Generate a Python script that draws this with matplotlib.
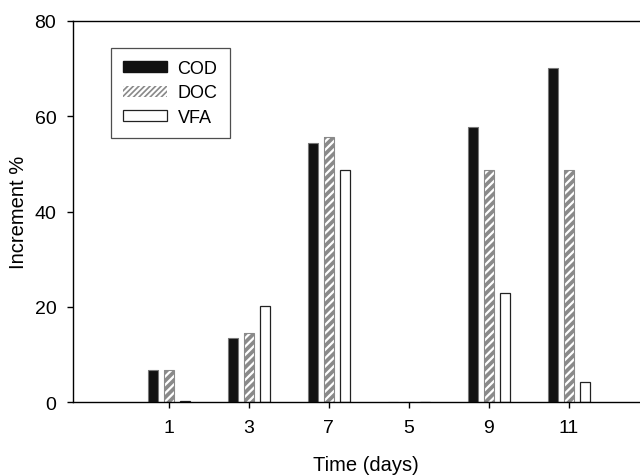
import matplotlib
matplotlib.use("Agg")
import matplotlib.pyplot as plt
import numpy as np
from matplotlib.patches import Patch

plt.rcParams['font.family'] = ['Liberation Sans', 'DejaVu Sans']
plt.rcParams['hatch.linewidth'] = 1.6

days = ["1", "3", "7", "5", "9", "11"]
cod = [6.7, 13.4, 54.4, 0, 57.8, 70.2]
doc = [6.7, 14.5, 55.7, 0, 48.7, 48.8]
vfa = [0.3, 20.2, 48.7, 0, 22.9, 4.2]
series_names = ["COD", "DOC", "VFA"]

fig = plt.figure(figsize=(6.4, 4.77), dpi=100)
ax = fig.add_axes([0.114, 0.155, 0.936, 0.799])

x = np.arange(len(days))
w = 0.125
off = 0.2

ax.bar(x - off, cod, w, color='#111111', edgecolor='#777777', linewidth=0.8)
ax.bar(x, doc, w, color='#8a8a8a', edgecolor='white', hatch='////', linewidth=0)
ax.bar(x, doc, w, fill=False, edgecolor='#8a8a8a', linewidth=0.8)
ax.bar(x + off, vfa, w, color='white', edgecolor='#222222', linewidth=0.9)

h_doc = Patch(facecolor='#8a8a8a', edgecolor='white', hatch='//////', linewidth=0)
handles = [Patch(facecolor='#111111', edgecolor='#111111'), h_doc,
           Patch(facecolor='white', edgecolor='#222222', linewidth=0.9)]
leg = ax.legend(handles, series_names, loc='upper left', bbox_to_anchor=(0.063, 0.93),
                fontsize=13, frameon=True, fancybox=False, edgecolor='#222222',
                handlelength=2.4, handleheight=0.55, handletextpad=0.6,
                labelspacing=0.4, borderpad=0.7, borderaxespad=0)
leg.get_frame().set_linewidth(0.9)

ax.set_xlim(-1.2, 6.29)
ax.set_ylim(0, 80)
ax.set_xticks(x)
ax.set_xticklabels(days)
ax.set_yticks([0, 20, 40, 60, 80])
ax.tick_params(direction='out', length=4, width=1, labelsize=14, pad=8)
ax.tick_params(axis='y', pad=8)
for s in ['left', 'bottom', 'top']:
    ax.spines[s].set_linewidth(1.0)
ax.spines['right'].set_visible(False)

ax.set_ylabel("Increment %", fontsize=14.5)
ax.yaxis.set_label_coords(-0.075, 0.5)
fig.text(366/640, 1 - 466/477, "Time (days)", fontsize=14.5, ha='center', va='center')

fig.savefig("out.png", dpi=100)
